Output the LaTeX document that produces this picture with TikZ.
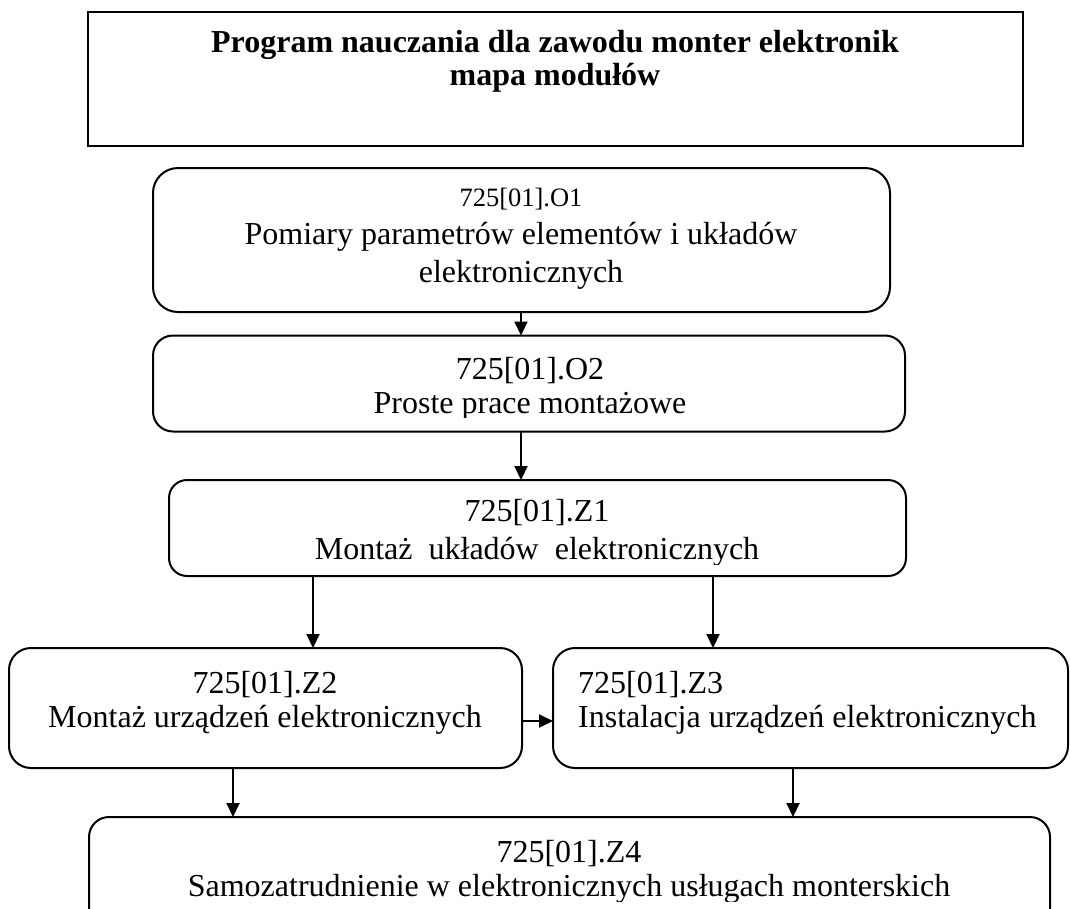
\documentclass[tikz,border=0pt]{standalone}
\usepackage{fontspec}
\setmainfont{Liberation Serif}
\usetikzlibrary{arrows.meta,calc}
\begin{document}
\begin{tikzpicture}[x=1pt,y=-1pt,
  frame/.style={draw,line width=2pt,inner sep=0pt,outer sep=0pt},
  box/.style={frame,rounded corners=20pt},
  lbl/.style={anchor=base,inner sep=0pt,font=\fontsize{32}{34}\selectfont},
  small/.style={anchor=base,inner sep=0pt,font=\fontsize{26.5}{30}\selectfont},
  ttl/.style={anchor=base,inner sep=0pt,font=\fontsize{32}{34}\selectfont\bfseries},
  arr/.style={line width=2pt,-{Triangle[length=14pt,width=13pt]}}]
\useasboundingbox (0,0) rectangle (1070,908);

% boxes
\node[frame, minimum width=935, minimum height=134] (title) at (555.5,79) {};
\node[box, rounded corners=25pt, minimum width=737, minimum height=144] (o1) at (521.5,240) {};
\node[box, minimum width=752, minimum height=96] (o2) at (529,383.5) {};
\node[box, rounded corners=18pt, minimum width=737, minimum height=96] (z1) at (537.5,528) {};
\node[box, rounded corners=22pt, minimum width=513, minimum height=120] (z2) at (265.5,708) {};
\node[box, rounded corners=22pt, minimum width=515, minimum height=120] (z3) at (810.5,708) {};
\node[box, minimum width=961, minimum height=120] (z4) at (569.5,877) {};

% texts
\node[ttl] (t1) at (555,52) {Program nauczania dla zawodu monter elektronik};
\node[ttl] (t2) at (555,85) {mapa modułów};

\node[small] (o1a) at (521,206) {725[01].O1};
\node[lbl] (o1b) at (521,244) {Pomiary parametrów elementów i układów};
\node[lbl] (o1c) at (521,282) {elektronicznych};

\node[lbl] (o2a) at (530,379) {725[01].O2};
\begin{scope}
\clip (0,0) rectangle (1070,417);
\node[lbl] (o2b) at (530,413) {Proste prace montażowe};
\end{scope}

\node[lbl] (z1a) at (537,521) {725[01].Z1};
\begin{scope}
\clip (0,0) rectangle (1070,564);
\node[lbl] (z1b) at (537,559) {Montaż~ układów~ elektronicznych};
\end{scope}

\node[lbl] (z2a) at (265,693) {725[01].Z2};
\node[lbl] (z2b) at (265,727) {Montaż urządzeń elektronicznych};

\node[lbl, anchor=base west] (z3a) at (578,693) {725[01].Z3};
\node[lbl, anchor=base west] (z3b) at (578,727) {Instalacja urządzeń elektronicznych};

\node[lbl] (z4a) at (569,862) {725[01].Z4};
\begin{scope}
\clip (0,0) rectangle (1070,901);
\node[lbl] (z4b) at (569,896) {Samozatrudnienie w elektronicznych usługach monterskich};
\end{scope}

% arrow positions
\coordinate (xa) at (521,0);
\coordinate (xb) at (313,0);
\coordinate (xc) at (713,0);
\coordinate (xd) at (233,0);
\coordinate (xe) at (793,0);
\coordinate (ya) at (0,721);

% connectors
\draw[arr] (o1.south -| xa) -- (o2.north -| xa);
\draw[arr] (o2.south -| xa) -- (z1.north -| xa);
\draw[arr] (z1.south -| xb) -- (z2.north -| xb);
\draw[arr] (z1.south -| xc) -- (z3.north -| xc);
\draw[arr] (z2.east |- ya) -- (z3.west |- ya);
\draw[arr] (z2.south -| xd) -- (z4.north -| xd);
\draw[arr] (z3.south -| xe) -- (z4.north -| xe);
\end{tikzpicture}
\end{document}
